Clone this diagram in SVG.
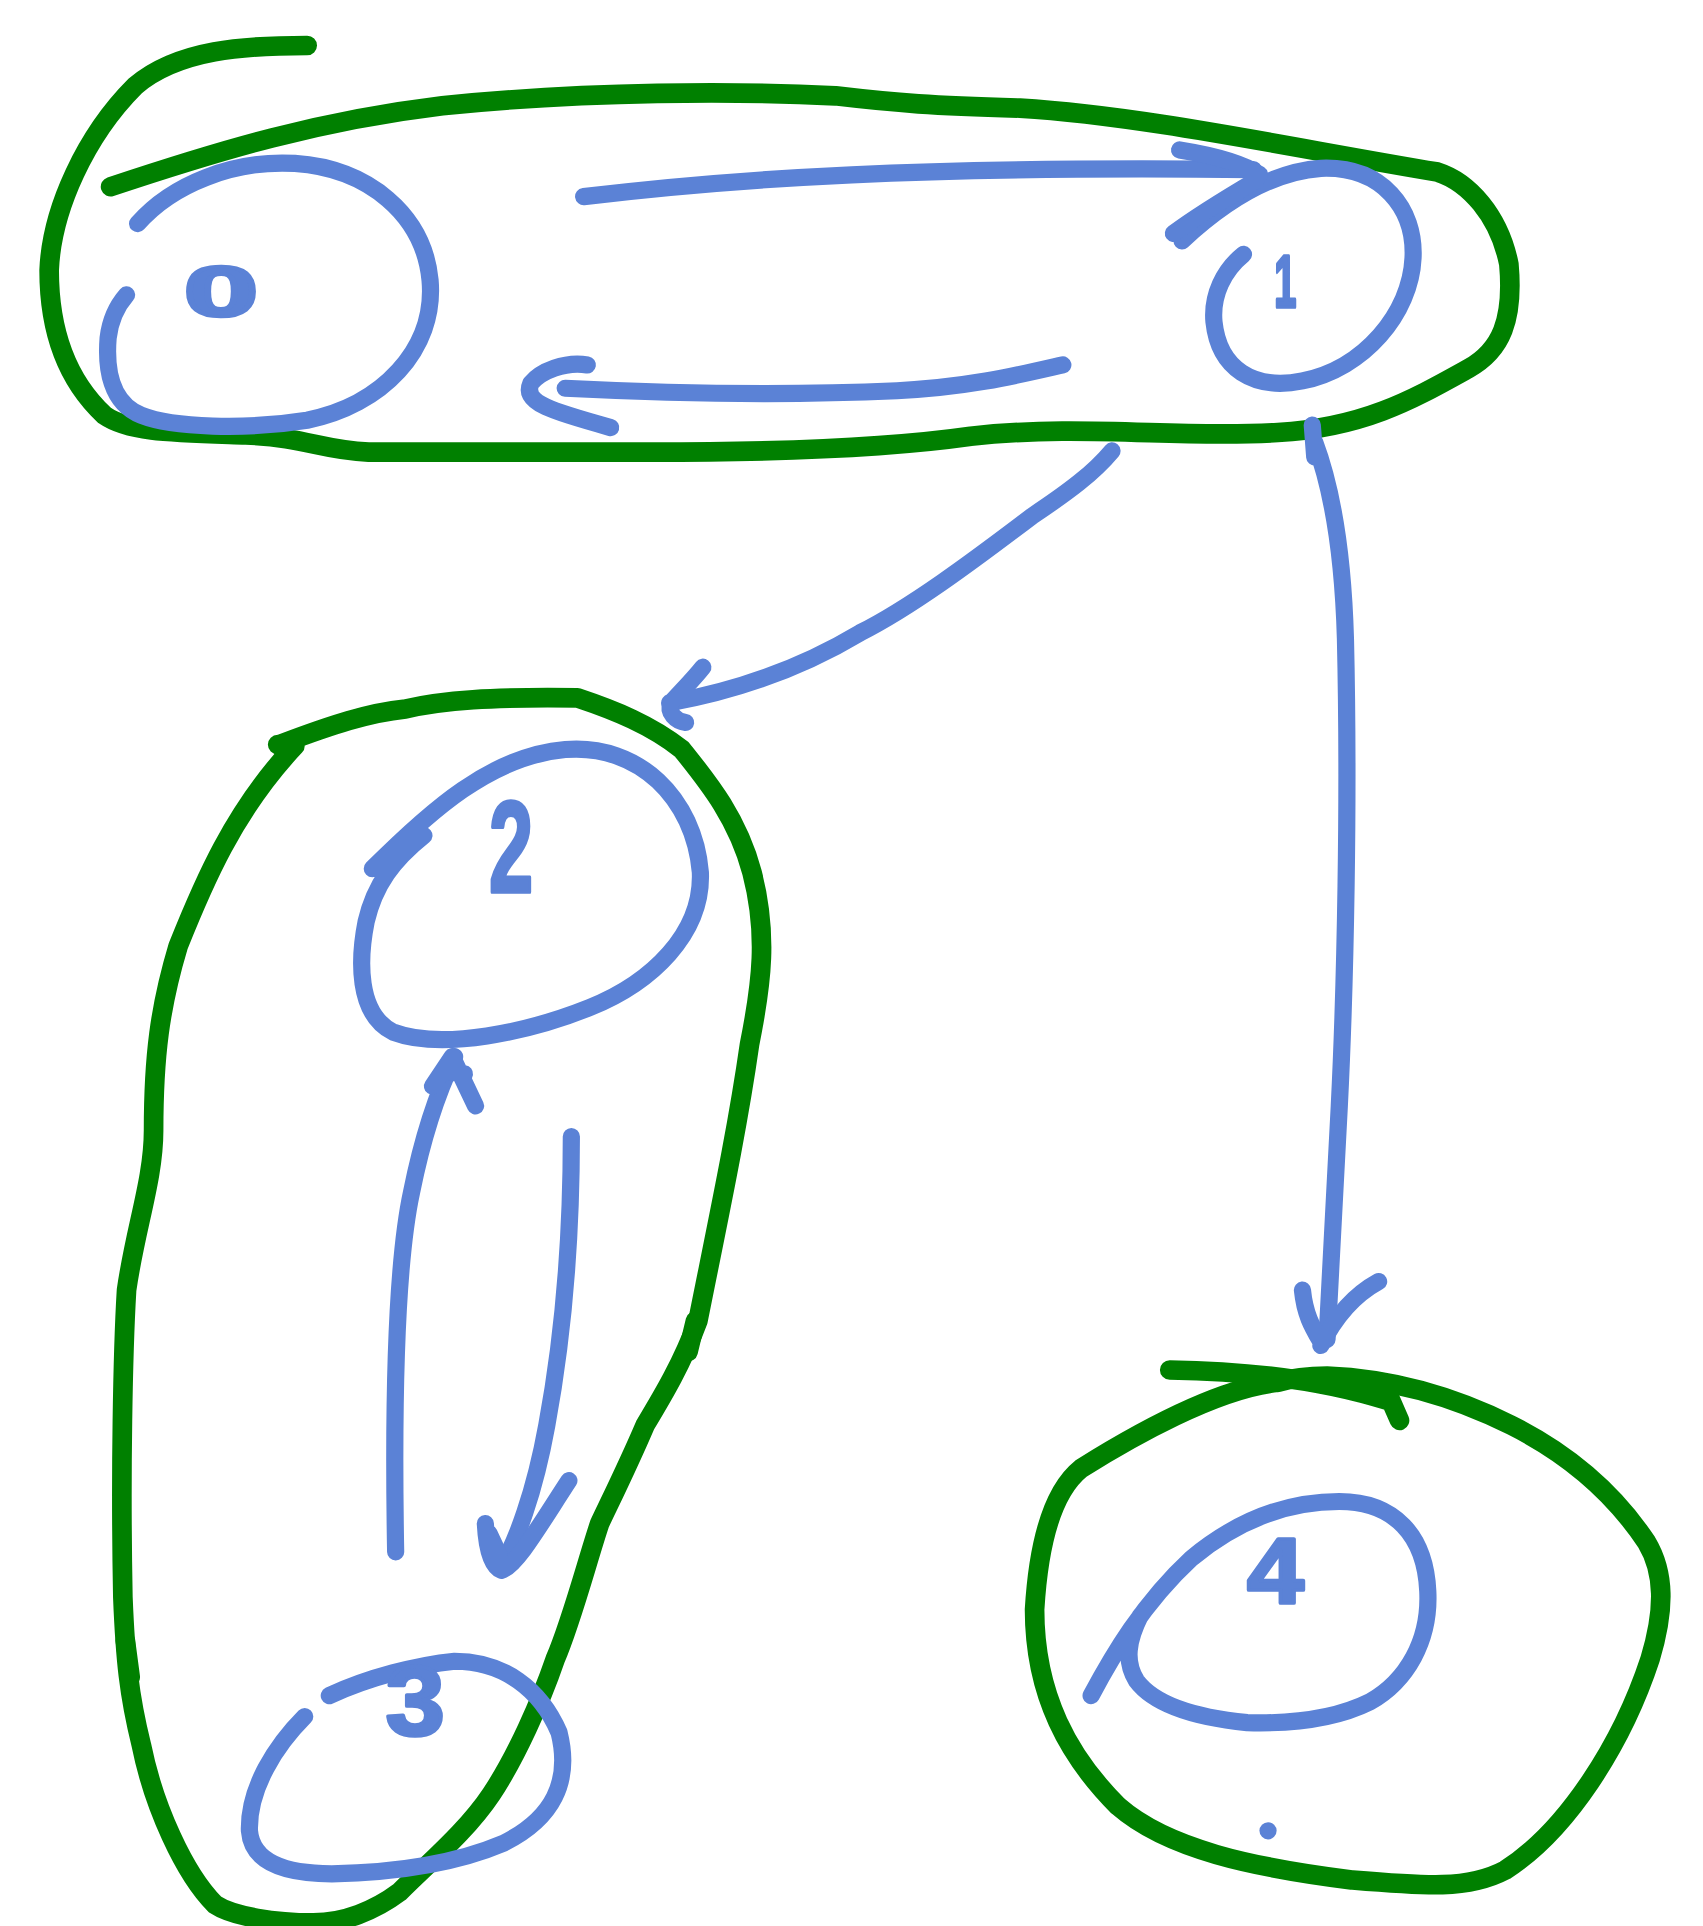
<svg xmlns="http://www.w3.org/2000/svg" width="1703" height="1926" viewBox="0 0 1703 1926">
<style>
.g{fill:none;stroke:#008000;stroke-width:16;stroke-linecap:round;stroke-linejoin:round}
.b{fill:none;stroke:#5b82d6;stroke-width:14;stroke-linecap:round;stroke-linejoin:round}
.lbl{fill:#5b82d6;stroke:#5b82d6;stroke-width:3;stroke-linejoin:round;font-family:"Liberation Sans","DejaVu Sans",sans-serif;text-anchor:middle}
</style>
<rect width="1703" height="1926" fill="#ffffff"/>
<g transform="scale(1.22872)">
<g id="cluster-01">
<path class="g" d="M90,152 C180,122 260,98 360,86 C480,74 600,74 680,78 C730,84 760,86 830,88 C930,94 1050,120 1170,140 C1195,148 1220,175 1228,215 C1232,260 1222,285 1195,300 C1150,325 1110,348 1040,352 C960,357 880,345 790,355 C720,365 620,368 530,368 L300,368 C260,366 250,356 200,354 C140,352 105,352 85,338 C55,310 40,270 40,220 C42,170 70,110 110,70 C145,40 200,37 250,37"/>
</g>
<g id="node-0">
<path class="b" d="M112,182 C140,150 190,130 240,133 C300,137 345,175 350,228 C355,285 310,330 250,342 C200,350 140,348 115,338 C90,328 86,300 88,275 C90,258 96,248 103,240"/>
<text class="lbl" x="180" y="257" font-size="58" font-weight="bold" textLength="60" lengthAdjust="spacingAndGlyphs">0</text>
</g>
<g id="node-1">
<path class="b" d="M962,196 C990,170 1030,140 1075,137 C1125,135 1152,170 1150,210 C1148,255 1110,300 1060,310 C1020,318 992,300 988,262 C986,240 996,220 1012,207"/>
<text class="lbl" x="1046" y="250" font-size="60" font-weight="bold" textLength="18" lengthAdjust="spacingAndGlyphs">1</text>
</g>
<g id="cluster-23">
<path class="g" d="M230,605 C270,590 300,580 330,577 C360,570 400,567 470,568 C500,578 530,590 555,610 C575,635 600,665 612,710 C625,760 620,800 610,850 C600,920 585,990 568,1075 C555,1110 540,1135 525,1160 C510,1195 495,1225 488,1240 C478,1270 465,1320 452,1350 C440,1385 420,1430 400,1460 C380,1490 350,1515 325,1540 C305,1555 280,1565 255,1565 C225,1565 190,1560 175,1550 C150,1525 125,1470 115,1420 C105,1380 102,1350 100,1300 C98,1200 100,1100 103,1050 C110,1000 125,960 125,920 C125,860 130,820 145,770 C165,720 190,660 240,607"/>
<path class="g" d="M226,606 L238,606 M566,1075 L560,1100 M102,1335 L106,1365"/>
</g>
<g id="node-2">
<path class="b" d="M303,707 C350,660 400,615 460,610 C520,605 565,650 570,710 C572,760 530,800 480,820 C430,840 360,855 320,840 C290,825 292,780 298,750 C305,720 320,700 345,680"/>
<text class="lbl" x="416" y="726" font-size="106" font-weight="bold" textLength="36" lengthAdjust="spacingAndGlyphs">2</text>
</g>
<g id="node-3">
<path class="b" d="M268,1380 C300,1365 340,1355 370,1352 C410,1352 440,1375 455,1410 C465,1450 450,1480 410,1500 C370,1517 320,1524 270,1525 C230,1525 205,1515 203,1490 C202,1455 225,1420 248,1397"/>
<text class="lbl" x="338" y="1412" font-size="80" font-weight="bold" textLength="48" lengthAdjust="spacingAndGlyphs">3</text>
</g>
<g id="cluster-4">
<path class="g" d="M952,1115 C1020,1116 1080,1124 1130,1140 M1132,1140 L1139,1156"/>
<path class="g" d="M1040,1125 C990,1130 920,1170 880,1195 C855,1215 845,1260 842,1310 C842,1380 870,1430 910,1470 C950,1505 1020,1520 1100,1530 C1160,1535 1195,1538 1225,1522 C1275,1490 1320,1420 1343,1350 C1355,1310 1355,1280 1340,1255 C1310,1210 1270,1180 1230,1160 C1180,1135 1130,1122 1080,1120 C1060,1120 1050,1122 1040,1125"/>
</g>
<g id="node-4">
<path class="b" d="M888,1380 C905,1348 930,1305 970,1268 C1010,1235 1050,1222 1090,1222 C1135,1222 1160,1250 1162,1295 C1164,1335 1145,1368 1115,1385 C1085,1400 1050,1403 1015,1402 C975,1398 940,1388 925,1368 C915,1352 918,1335 928,1315"/>
<text class="lbl" x="1038" y="1305" font-size="76" font-weight="bold" textLength="46" lengthAdjust="spacingAndGlyphs">4</text>
<circle cx="1032" cy="1490" r="7" fill="#5b82d6"/>
</g>
<g id="connectors">
<path class="b" d="M475,160 C600,145 750,135 1020,138"/>
<path class="b" d="M960,122 C985,126 1010,132 1025,142 M955,190 C975,175 1000,160 1022,147"/>
<path class="b" d="M865,297 C830,305 790,315 730,318 C640,322 540,320 460,316"/>
<path class="b" d="M478,297 C460,294 440,302 432,312 C425,328 450,335 497,348"/>
<path class="b" d="M905,367 C890,385 870,400 840,420 C790,458 740,495 700,515 C650,545 600,562 545,572"/>
<path class="b" d="M572,543 C565,552 555,562 546,572 C543,580 550,587 558,588"/>
<path class="b" d="M1068,346 L1070,372 M1070,360 C1085,400 1093,450 1095,520 C1098,650 1095,800 1090,900 C1086,980 1083,1040 1080,1090"/>
<path class="b" d="M1060,1050 C1062,1070 1068,1080 1075,1092 M1122,1043 C1100,1055 1085,1075 1075,1095"/>
<path class="b" d="M322,1263 C320,1150 322,1030 335,970 C345,920 358,885 370,860"/>
<path class="b" d="M352,884 L368,860 L387,900 M362,872 L378,874"/>
<path class="b" d="M465,925 C465,1010 458,1090 445,1160 C435,1215 420,1255 408,1275"/>
<path class="b" d="M395,1240 C396,1260 400,1275 408,1278 C420,1275 440,1240 463,1205 M398,1248 L406,1265"/>
</g>
</g>
</svg>
